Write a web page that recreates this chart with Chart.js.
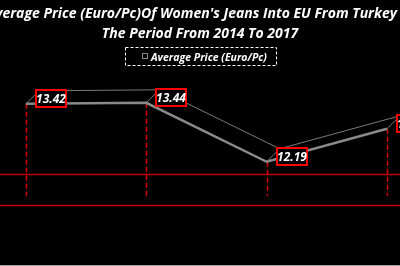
<!DOCTYPE html>
<html><head><meta charset="utf-8">
<script src="https://cdn.jsdelivr.net/npm/chart.js@4"></script>
<style>html,body{margin:0;padding:0;background:#000;overflow:hidden}</style>
</head><body><canvas id="c" width="400" height="266"></canvas>
<script>
const years = ['2014', '2015', '2016', '2017'];
const avgPrice = [13.42, 13.44, 12.19, 12.89];
const seriesName = 'Average Price (Euro/Pc)';
const titleLines = ["Average Price (Euro/Pc)Of Women's Jeans Into EU From Turkey In", 'The Period From 2014 To 2017'];
const wallLines = [11.94, 11.28];
const floorValue = 11.47;

const DX = 13, DY = -13;
const FONT = '"Open Sans", Lato, "DejaVu Sans", sans-serif';

const deco = {
  id: 'deco',
  beforeDraw(chart) {
    const ctx = chart.ctx, W = chart.width, H = chart.height;
    ctx.save();
    ctx.fillStyle = '#000';
    ctx.fillRect(0, 0, W, H);
    ctx.fillStyle = '#a0a0a0';
    ctx.fillRect(0, H - 1, W, 1);
    const y = chart.scales.y;
    ctx.strokeStyle = '#c00000';
    ctx.lineWidth = 1.5;
    wallLines.forEach(v => {
      const py = Math.round(y.getPixelForValue(v)) + 0.5;
      ctx.beginPath(); ctx.moveTo(0, py); ctx.lineTo(W, py); ctx.stroke();
    });
    const pts = chart.getDatasetMeta(0).data;
    const fy = y.getPixelForValue(floorValue);
    ctx.strokeStyle = '#e00000';
    ctx.lineWidth = 1.5;
    ctx.setLineDash([5, 3]);
    pts.forEach(p => {
      const px = Math.round(p.x) + 0.5;
      ctx.beginPath(); ctx.moveTo(px, p.y); ctx.lineTo(px, fy); ctx.stroke();
    });
    ctx.setLineDash([]);
    // back edge of the 3D ribbon
    ctx.strokeStyle = '#7a7a7a';
    ctx.lineWidth = 1;
    ctx.beginPath();
    pts.forEach((p, i) => { if (i === 0) ctx.moveTo(p.x + DX, p.y + DY); else ctx.lineTo(p.x + DX, p.y + DY); });
    ctx.stroke();
    pts.forEach(p => {
      ctx.beginPath(); ctx.moveTo(p.x, p.y); ctx.lineTo(p.x + DX, p.y + DY); ctx.stroke();
    });
    ctx.restore();
  },
  afterDatasetsDraw(chart) {
    const ctx = chart.ctx;
    ctx.save();
    const pts = chart.getDatasetMeta(0).data;
    ctx.font = 'italic bold 12px ' + FONT;
    ctx.textAlign = 'center';
    ctx.textBaseline = 'middle';
    pts.forEach((p, i) => {
      const bx = Math.round(p.x) + 10, by = Math.round(p.y) - 14, bw = 30, bh = 17;
      ctx.fillStyle = '#000';
      ctx.fillRect(bx, by, bw, bh);
      ctx.strokeStyle = '#ff0000';
      ctx.lineWidth = 2;
      ctx.strokeRect(bx, by, bw, bh);
      ctx.fillStyle = '#ffffff';
      ctx.fillText(avgPrice[i].toFixed(2), bx + bw / 2, by + bh / 2 + 1);
    });
    // title
    ctx.fillStyle = '#ffffff';
    ctx.font = 'italic bold 14px ' + FONT;
    ctx.textBaseline = 'alphabetic';
    ctx.fillText(titleLines[0], 200, 18);
    ctx.fillText(titleLines[1], 200, 38);
    // legend
    ctx.strokeStyle = '#ffffff';
    ctx.lineWidth = 1;
    ctx.setLineDash([3, 2]);
    ctx.strokeRect(125.5, 47.5, 151, 18);
    ctx.setLineDash([]);
    ctx.strokeStyle = '#8a8a8a';
    ctx.strokeRect(142.5, 53.5, 5, 5);
    ctx.fillStyle = '#ffffff';
    ctx.font = 'italic bold 10.5px ' + FONT;
    ctx.textAlign = 'left';
    ctx.fillText(seriesName, 151, 61);
    ctx.restore();
  }
};

new Chart(document.getElementById('c'), {
  type: 'line',
  data: {
    labels: years,
    datasets: [{
      label: seriesName,
      data: avgPrice,
      borderColor: '#8a8a8a',
      borderWidth: 2.5,
      pointRadius: 0,
      tension: 0,
      fill: false
    }]
  },
  options: {
    responsive: false,
    animation: false,
    layout: { padding: { left: 26, right: 13, top: 1, bottom: 1 } },
    plugins: { legend: { display: false }, title: { display: false }, tooltip: { enabled: false } },
    scales: {
      x: { display: false, offset: false },
      y: { display: false, min: 10, max: 15.6 }
    }
  },
  plugins: [deco]
});
</script>
</body></html>
